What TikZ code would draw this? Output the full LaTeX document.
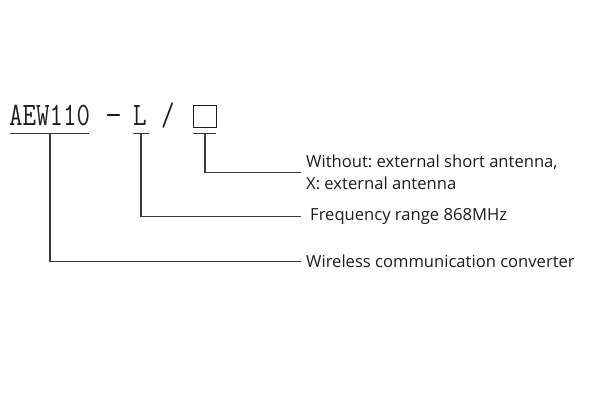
\documentclass[tikz,border=0pt]{standalone}
\usepackage{fontspec}
\usepackage{graphicx}
\usetikzlibrary{positioning}
\newfontfamily\labelfamily{Open Sans}
\definecolor{leadgray}{HTML}{3A3A3A}
\definecolor{inkgray}{HTML}{1C1C1C}
\frenchspacing

\begin{document}
\begin{tikzpicture}[x=1pt,y=-1pt,
      code/.style={inner sep=0pt,anchor=base west,text=inkgray,font={\fontsize{32.7}{34}\selectfont\ttfamily}},
      lbl/.style={inner xsep=5pt,inner ysep=0pt,anchor=west,align=left,text=inkgray,font={\fontsize{16.6}{21.5}\selectfont\labelfamily}},
      lead/.style={draw=leadgray,line width=1.4pt}]
      \useasboundingbox[fill=white] (0,0) rectangle (600,400);
      % type code
      \node[code] (aew)   at (9,125)   {\scalebox{0.8}[1]{AEW110}};
      \node[code] (dash)  at (105,125) {\scalebox{1}[1]{-}};
      \node[code] (lett)  at (133,125) {\scalebox{0.8}[1]{L}};
      \node[code] (slash) at (161,125) {\scalebox{0.8}[1]{/}};
      \node[draw=inkgray,line width=0.9pt,minimum width=23pt,minimum height=22pt,inner sep=0pt] (opt) at (204.5,116.5) {};
      % explanations
      \node[lbl] (ant)  at (301,172.5) {Without: external short antenna,\\X: external antenna};
      \node[lbl,inner xsep=9pt] (freq) at (301,216.5) {Frequency range 868MHz};
      \node[lbl] (conv) at (301,261.5) {Wireless communication converter};
      \coordinate (aewu)  at (50,133.5);
      \coordinate (lettu) at (141,133.5);
      \coordinate (optu)  at (205,133.5);
      \draw[lead] ([xshift=-40pt]aewu) -- ([xshift=39pt]aewu);
      \draw[lead] ([xshift=-8pt]lettu) -- ([xshift=8pt]lettu);
      \draw[lead] ([xshift=-12pt]optu) -- ([xshift=11pt]optu);
      \draw[lead] (optu)  |- (ant.west);
      \draw[lead] (lettu) |- (freq.west);
      \draw[lead] (aewu)  |- (conv.west);
    \end{tikzpicture}
\end{document}
